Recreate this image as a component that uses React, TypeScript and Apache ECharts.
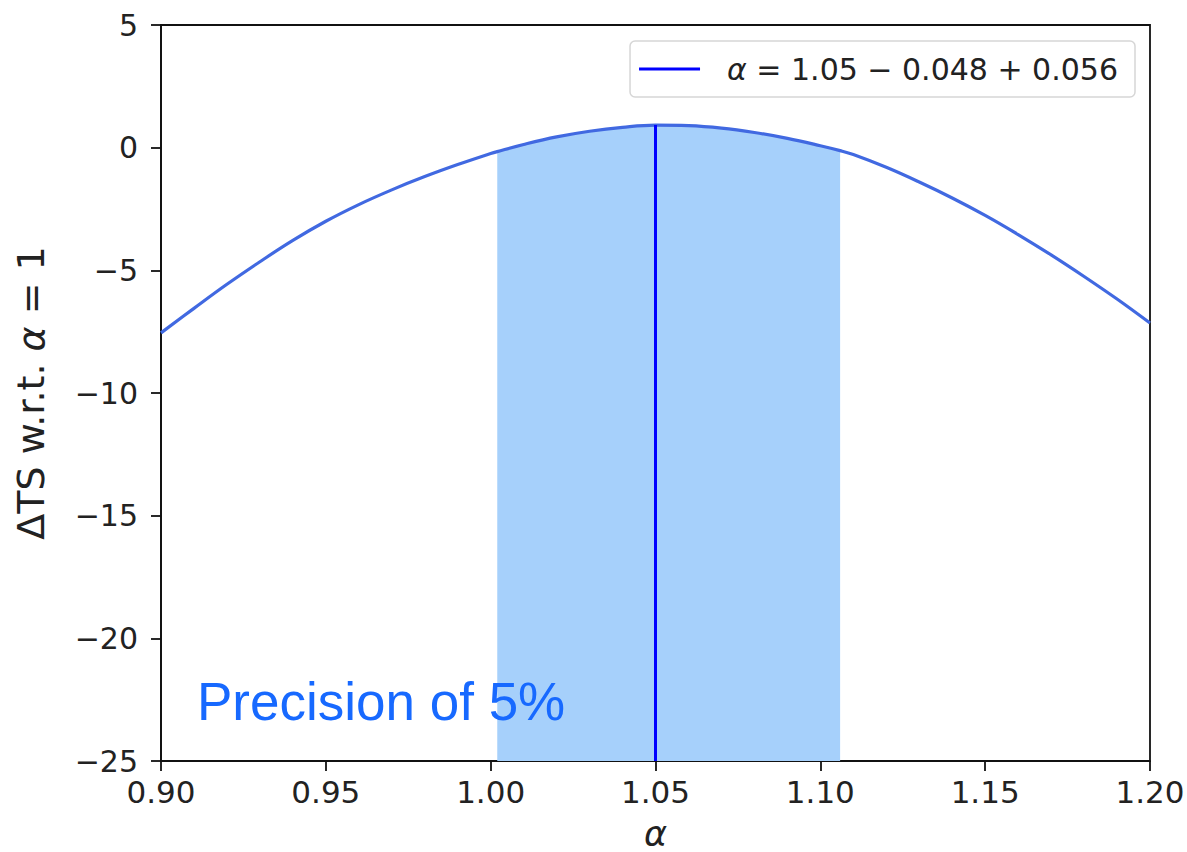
import React, { useEffect, useRef } from "react";
import * as echarts from "echarts";

// ---- data ----
const alphaValues = [
  0.9, 0.91, 0.92, 0.93, 0.94, 0.95, 0.96, 0.97, 0.98, 0.99, 1.0, 1.002, 1.01,
  1.02, 1.03, 1.04, 1.05, 1.06, 1.07, 1.08, 1.09, 1.1, 1.106, 1.11, 1.12, 1.13,
  1.14, 1.15, 1.16, 1.17, 1.18, 1.19, 1.2,
];
const deltaTS = [
  -7.55, -6.55, -5.57, -4.65, -3.78, -3.0, -2.32, -1.72, -1.18, -0.69, -0.24,
  -0.16, 0.13, 0.44, 0.67, 0.83, 0.92, 0.9, 0.8, 0.62, 0.38, 0.08, -0.12,
  -0.28, -0.8, -1.4, -2.05, -2.76, -3.54, -4.37, -5.25, -6.17, -7.15,
];
const bestFit = 1.05;
const errLow = 0.048;
const errHigh = 0.056;
const xTicks = { min: 0.9, max: 1.2, interval: 0.05 };
const yTicks = { min: -25, max: 5, interval: 5 };
const annotation = "Precision of 5%";
const yAxisTitle = "ΔTS w.r.t. {i|α} = 1";
const xAxisTitle = "α";

export default function App() {
  const ref = useRef<HTMLDivElement>(null);

  useEffect(() => {
    if (!ref.current) return;
    const chart = echarts.init(ref.current, null, { renderer: "svg" });

    const bandLo = +(bestFit - errLow).toFixed(3);
    const bandHi = +(bestFit + errHigh).toFixed(3);
    const curve = alphaValues.map((a, i) => [a, deltaTS[i]]);
    const band = curve.filter(
      (p) => p[0] >= bandLo - 1e-9 && p[0] <= bandHi + 1e-9
    );
    const peakAtBest =
      curve.find((p) => Math.abs(p[0] - bestFit) < 1e-9)?.[1] ?? 0;
    const legendName = `α = ${bestFit} − ${errLow} + ${errHigh}`;
    const font = "DejaVu Sans";

    const fmtY = (v: number) => (v < 0 ? "\u2212" + Math.abs(v) : String(v));

    chart.setOption({
      animation: false,
      backgroundColor: "#ffffff",
      grid: {
        left: 161,
        right: 37,
        top: 25,
        bottom: 91,
        outerBoundsMode: "none",
        containLabel: false,
        show: true,
        borderColor: "#111",
        borderWidth: 1.8,
        backgroundColor: "transparent",
      },
      legend: {
        data: [{ name: legendName, icon: "rect" }],
        right: 52,
        top: 41,
        itemWidth: 61,
        itemHeight: 3,
        padding: [13, 17, 13, 9],
        backgroundColor: "#ffffff",
        borderColor: "#d6d6d6",
        borderWidth: 1.5,
        borderRadius: 5,
        formatter: () => `{i|α} = ${bestFit} − ${errLow} + ${errHigh}`,
        textStyle: {
          fontFamily: font,
          fontSize: 30,
          color: "#222",
          padding: [0, 0, 0, 22],
          rich: {
            i: { fontFamily: font, fontSize: 30, fontStyle: "italic", color: "#222" },
          },
        },
      },
      xAxis: {
        type: "value",
        min: xTicks.min,
        max: xTicks.max,
        interval: xTicks.interval,
        name: xAxisTitle,
        nameLocation: "middle",
        nameGap: 56,
        nameTextStyle: {
          fontFamily: font,
          fontSize: 35,
          lineHeight: 33,
          fontStyle: "italic",
          color: "#222",
        },
        axisLine: { show: true, onZero: false, lineStyle: { color: "#111", width: 1.8 } },
        axisTick: { show: true, inside: false, length: 10, lineStyle: { color: "#111", width: 1.8 } },
        axisLabel: {
          fontFamily: font,
          fontSize: 31,
          color: "#222",
          margin: 15,
          formatter: (v: number) => v.toFixed(2),
        },
        splitLine: { show: false },
      },
      yAxis: {
        type: "value",
        min: yTicks.min,
        max: yTicks.max,
        interval: yTicks.interval,
        name: yAxisTitle,
        nameLocation: "middle",
        nameGap: 111,
        nameTextStyle: {
          fontFamily: font,
          fontSize: 38,
          color: "#222",
          rich: { i: { fontFamily: font, fontSize: 38, fontStyle: "italic", color: "#222" } },
        },
        axisLine: { show: true, onZero: false, lineStyle: { color: "#111", width: 1.8 } },
        axisTick: { show: true, inside: false, length: 10, lineStyle: { color: "#111", width: 1.8 } },
        axisLabel: {
          fontFamily: font,
          fontSize: 30,
          color: "#222",
          margin: 23,
          formatter: fmtY,
        },
        splitLine: { show: false },
      },
      series: [
        {
          name: "band",
          type: "line",
          data: band,
          symbol: "none",
          smooth: 0.4,
          lineStyle: { width: 0 },
          areaStyle: { color: "#a6d0fb", opacity: 1, origin: "start" },
          silent: true,
          z: 1,
        },
        {
          name: "curve",
          type: "line",
          data: curve,
          symbol: "none",
          smooth: 0.4,
          lineStyle: { color: "#4169e1", width: 3.2 },
          z: 2,
        },
        {
          name: legendName,
          type: "line",
          data: [
            [bestFit, yTicks.min],
            [bestFit, peakAtBest],
          ],
          symbol: "none",
          color: "#0000ff",
          lineStyle: { color: "#0000ff", width: 3 },
          z: 3,
        },
      ],
      graphic: [
        {
          type: "text",
          left: 197,
          top: 675,
          style: {
            text: annotation,
            fontFamily: "Liberation Sans",
            fontSize: 53,
            fill: "#1769ff",
          },
          z: 10,
        },
      ],
    });

    return () => chart.dispose();
  }, []);

  return (
    <div
      ref={ref}
      style={{
        position: "fixed",
        left: 0,
        top: 0,
        width: 1187,
        height: 852,
        background: "#fff",
      }}
    />
  );
}
